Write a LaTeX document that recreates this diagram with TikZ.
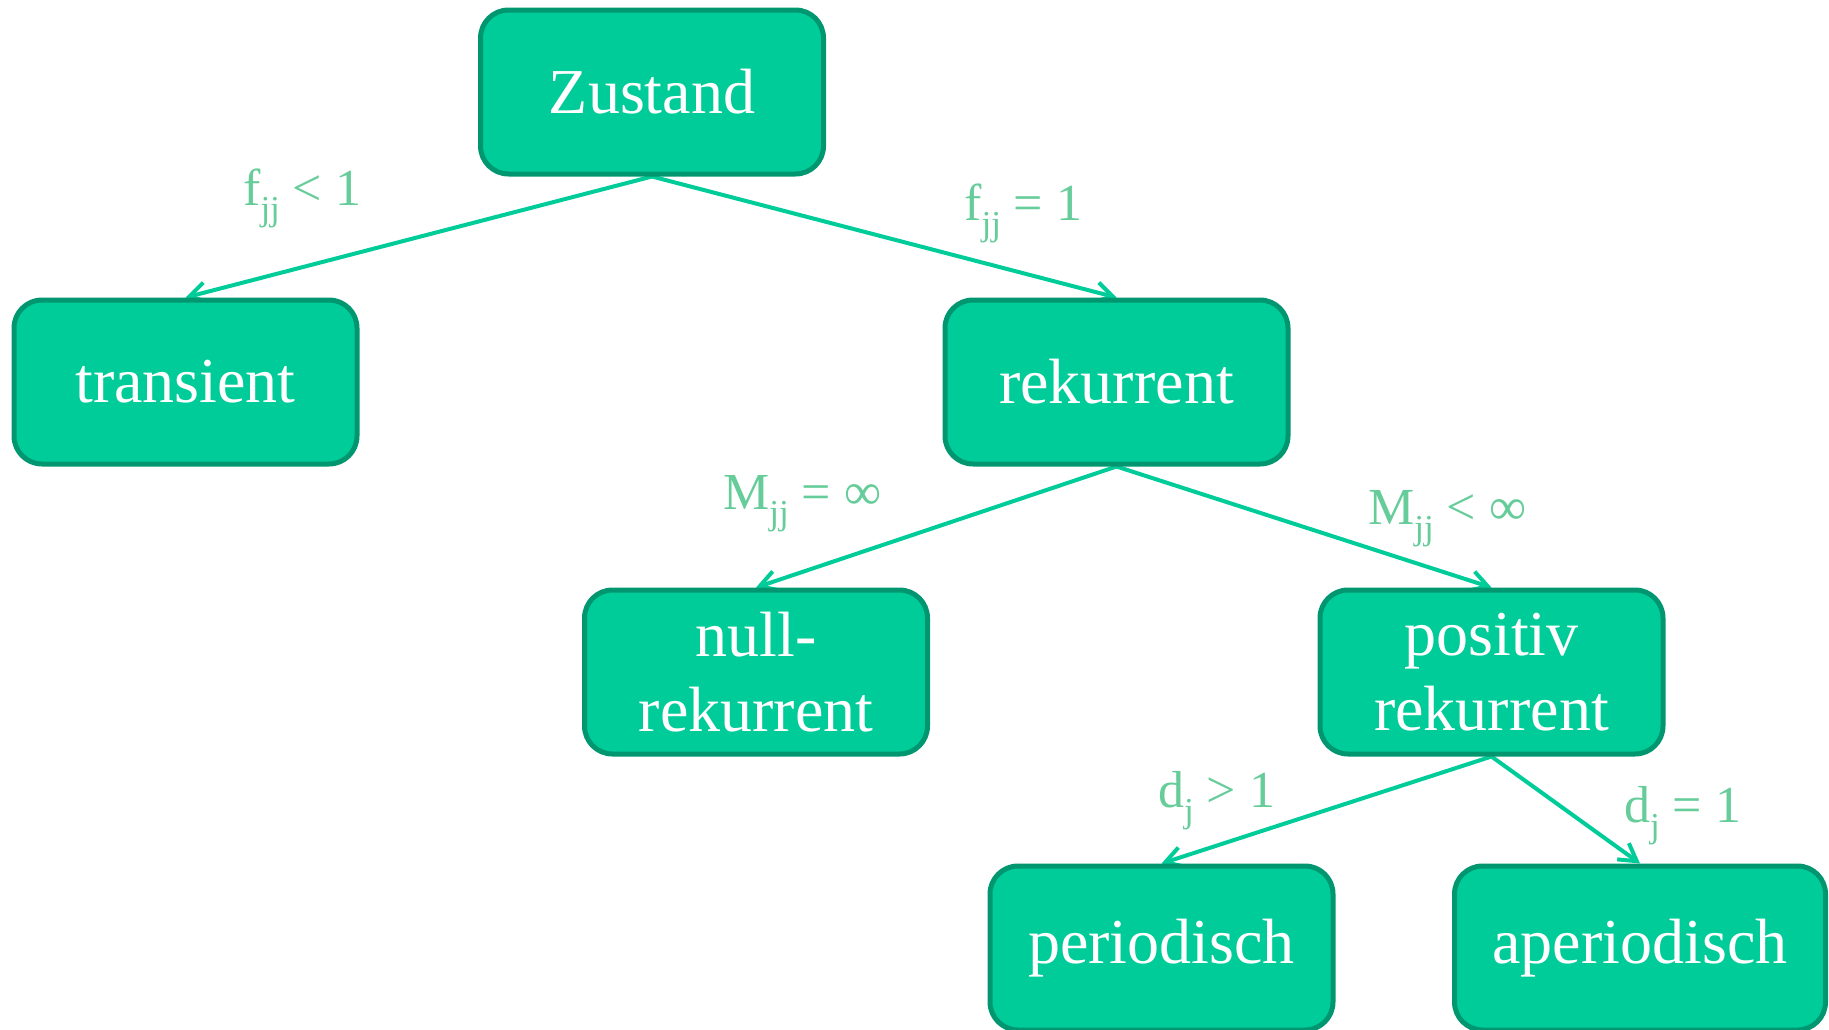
\documentclass[tikz,border=0pt]{standalone}
\usepackage{fontspec}
\setmainfont{Liberation Serif}
\usetikzlibrary{arrows.meta,backgrounds}
\definecolor{boxfill}{HTML}{00CC99}
\definecolor{boxline}{HTML}{009670}
\definecolor{lblcol}{HTML}{66CC99}
\newcommand{\sbs}[1]{\raisebox{-0.3em}{\fontsize{35}{35}\selectfont #1}}
\begin{document}
\begin{tikzpicture}[x=1pt,y=-1pt,
  box/.style={draw=boxline, line width=5pt, fill=boxfill, rounded corners=28pt,
    text=white, font=\fontsize{64}{75}\selectfont, align=center,
    minimum width=343pt, minimum height=164pt, inner sep=0pt},
  lbl/.style={text=lblcol, font=\fontsize{52}{52}\selectfont, anchor=base west, inner sep=0pt},
  conn/.style={draw=boxfill, line width=4pt, -{Straight Barb[length=17pt,width=20pt]}}]
\useasboundingbox (0,0) rectangle (1829,1029);
\node[box] (zustand) at (652,92) {Zustand};
\node[box] (transient) at (185.5,382) {transient};
\node[box] (rekurrent) at (1116.5,382) {rekurrent};
\node[box] (null) at (756,672) {null-\\rekurrent};
\node[box] (positiv) at (1491.5,672) {positiv\\rekurrent};
\node[box] (periodisch) at (1161.5,948) {periodisch};
\node[box, minimum width=371pt] (aperiodisch) at (1640,948) {aperiodisch};

\begin{scope}[on background layer]
\draw[conn] (zustand.south) -- (transient.north);
\draw[conn] (zustand.south) -- (rekurrent.north);
\draw[conn] (rekurrent.south) -- (null.north);
\draw[conn] (rekurrent.south) -- (positiv.north);
\draw[conn] (positiv.south) -- (periodisch.north);
\draw[conn] (positiv.south) -- (aperiodisch.north);
\end{scope}

\node[lbl] (l1) at (243,205) {f\sbs{jj} < 1};
\node[lbl] (l2) at (964,220) {f\sbs{jj} = 1};
\node[lbl] (l3) at (723,509) {M\sbs{jj} = ∞};
\node[lbl] (l4) at (1368,524) {M\sbs{jj} < ∞};
\node[lbl] (l5) at (1158,807) {d\sbs{j} > 1};
\node[lbl] (l6) at (1624,822) {d\sbs{j} = 1};
\end{tikzpicture}
\end{document}
